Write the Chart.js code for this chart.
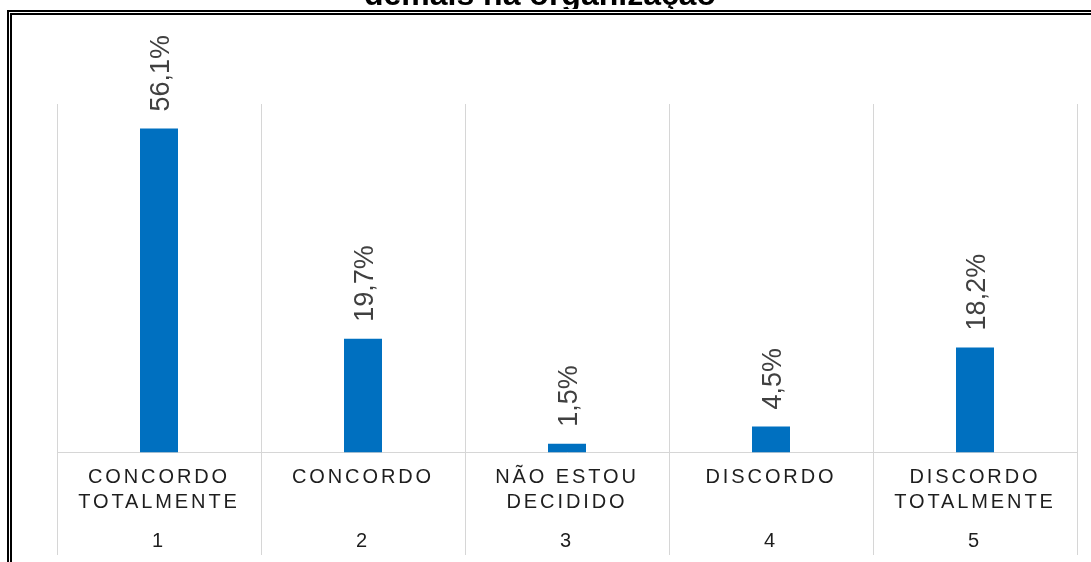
<!DOCTYPE html>
<html>
<head>
<meta charset="utf-8">
<script src="https://cdn.jsdelivr.net/npm/chart.js@4/dist/chart.umd.min.js"></script>
<style>
    html, body { margin: 0; padding: 0; background: #fff; }
    #wrap { position: relative; width: 1091px; height: 562px; overflow: hidden; }
    #chart { position: absolute; left: 0; top: 0; }
    /* frame round the chart, only top and left edges are in view */
    #frame {
        position: absolute; left: 7px; top: 10px; width: 1200px; height: 700px;
        border-left: 5px double #000; border-top: 5px double #000;
        pointer-events: none;
    }
    #title-clip { position: absolute; left: 0; top: 0; width: 1080px; height: 9px; overflow: hidden; }
    #title {
        position: absolute; left: 0; top: -22px; width: 1080px; text-align: center;
        font: bold 32px Arial, "Liberation Sans", sans-serif; line-height: 32px; color: #000;
    }
</style>
</head>
<body>
<div id="wrap">
    <canvas id="chart" width="1091" height="564"></canvas>
    <div id="frame"></div>
    <div id="title-clip"><div id="title">demais na organização</div></div>
</div>
<script>
// data
const categoryLabels = [
    ['CONCORDO', 'TOTALMENTE'],
    ['CONCORDO'],
    ['NÃO ESTOU', 'DECIDIDO'],
    ['DISCORDO'],
    ['DISCORDO', 'TOTALMENTE']
];
const scaleNumbers = ['1', '2', '3', '4', '5'];
const percentValues = [56.1, 19.7, 1.5, 4.5, 18.2];
const valueLabels = ['56,1%', '19,7%', '1,5%', '4,5%', '18,2%'];

const FONT = 'Arial, "Liberation Sans", sans-serif';
const GRID_COLOR = '#d6d6d6';

// spaced-out capitals for the category axis only
const letterSpacingPlugin = {
    id: 'letterSpacing',
    beforeDraw(chart) { chart.ctx.letterSpacing = '2.9px'; },
    beforeDatasetsDraw(chart) { chart.ctx.letterSpacing = '0px'; }
};

// column separators running from the top of the plot down past the labels
const separatorPlugin = {
    id: 'separators',
    beforeDatasetsDraw(chart) {
        const x = chart.scales.x;
        const area = chart.chartArea;
        const n = categoryLabels.length;
        const ctx = chart.ctx;
        ctx.save();
        ctx.strokeStyle = GRID_COLOR;
        ctx.lineWidth = 1;
        for (let i = 0; i <= n; i++) {
            let px;
            if (i === 0) px = area.left;
            else if (i === n) px = area.right;
            else px = (x.getPixelForValue(i - 1) + x.getPixelForValue(i)) / 2;
            px = Math.round(px) + 0.5;
            ctx.beginPath();
            ctx.moveTo(px, 104);
            ctx.lineTo(px, 555);
            ctx.stroke();
        }
        ctx.restore();
    }
};

// rotated value labels above each bar
const valueLabelPlugin = {
    id: 'valueLabels',
    afterDatasetsDraw(chart) {
        const ctx = chart.ctx;
        const meta = chart.getDatasetMeta(0);
        ctx.save();
        ctx.letterSpacing = '0px';
        ctx.font = '27px ' + FONT;
        ctx.fillStyle = '#404040';
        ctx.textAlign = 'left';
        ctx.textBaseline = 'alphabetic';
        meta.data.forEach((bar, i) => {
            ctx.save();
            ctx.translate(bar.x, bar.y - 17);
            ctx.rotate(-Math.PI / 2);
            ctx.fillText(valueLabels[i], 0, 0.716 * 27 / 2);
            ctx.restore();
        });
        ctx.restore();
    }
};

const ctx = document.getElementById('chart').getContext('2d');
new Chart(ctx, {
    type: 'bar',
    data: {
        labels: categoryLabels,
        datasets: [{
            data: percentValues,
            backgroundColor: '#0070c0',
            borderWidth: 0,
            categoryPercentage: 1,
            barPercentage: 38 / 204
        }]
    },
    options: {
        responsive: false,
        animation: false,
        events: [],
        layout: { padding: { top: 106, left: 57, right: 14, bottom: 9.5 } },
        plugins: {
            legend: { display: false },
            tooltip: { enabled: false },
            title: { display: false }
        },
        scales: {
            x: {
                weight: 0,
                offset: true,
                grid: { display: false, drawTicks: false },
                border: { display: true, color: GRID_COLOR, width: 1 },
                ticks: {
                    color: '#1e1e1e',
                    padding: 12.5,
                    maxRotation: 0,
                    autoSkip: false,
                    font: { family: FONT, size: 20, lineHeight: '25px' }
                }
            },
            x2: {
                type: 'category',
                labels: scaleNumbers,
                position: 'bottom',
                weight: 1,
                z: 1,
                offset: true,
                grid: { display: false, drawTicks: false },
                border: { display: false },
                ticks: {
                    color: '#1e1e1e',
                    padding: 1,
                    maxRotation: 0,
                    autoSkip: false,
                    font: { family: FONT, size: 20, lineHeight: '25px' }
                }
            },
            y: {
                display: false,
                min: 0,
                max: 60
            }
        }
    },
    plugins: [letterSpacingPlugin, separatorPlugin, valueLabelPlugin]
});
</script>
</body>
</html>
